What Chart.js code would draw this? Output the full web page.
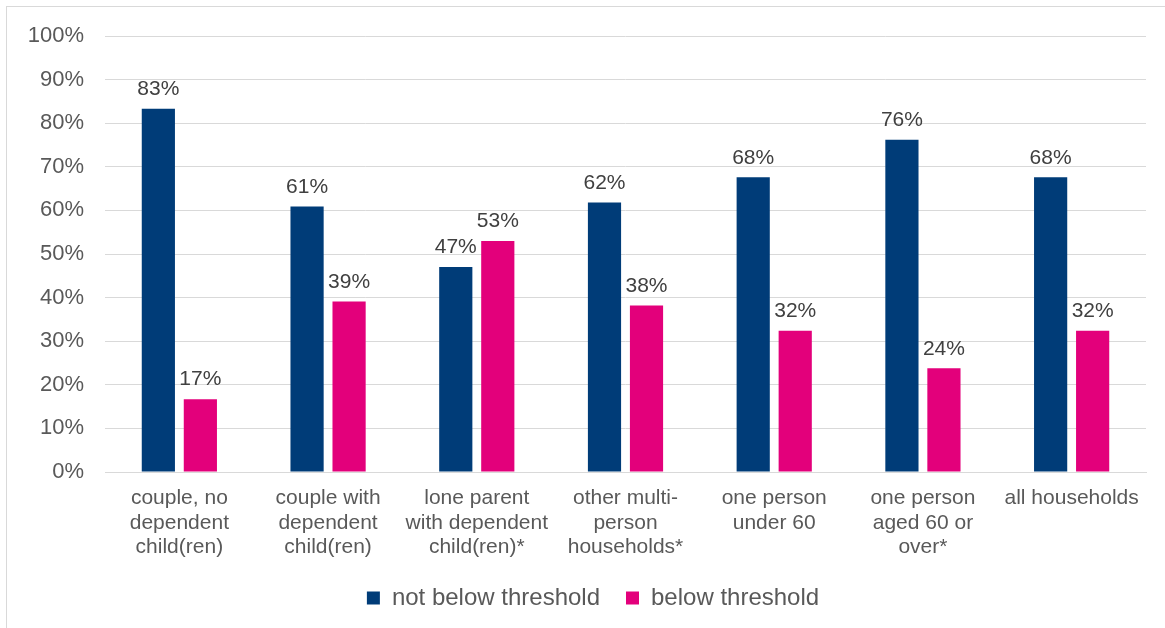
<!DOCTYPE html>
<html>
<head>
<meta charset="utf-8">
<script src="https://cdn.jsdelivr.net/npm/chart.js@4.4.1/dist/chart.umd.min.js"></script>
<style>
  html, body { margin: 0; padding: 0; background: #fff; }
  #frame {
    position: absolute; left: 6px; top: 6px; width: 1160px; height: 640px;
    border: 1px solid #d9d9d9; box-sizing: border-box;
  }
  #wrap { position: absolute; left: 0; top: 0; width: 1165px; height: 628px; }
</style>
</head>
<body>
<div id="frame"></div>
<div id="wrap"><canvas id="bar-chart-threshold"></canvas></div>
<script>
const categories = [
  ["couple, no", "dependent", "child(ren)"],
  ["couple with", "dependent", "child(ren)"],
  ["lone parent", "with dependent", "child(ren)*"],
  ["other multi-", "person", "households*"],
  ["one person", "under 60"],
  ["one person", "aged 60 or", "over*"],
  ["all households"]
];
const notBelow = [83.3, 60.9, 47.0, 61.8, 67.6, 76.2, 67.6];
const below = [16.7, 39.1, 53.0, 38.2, 32.4, 23.8, 32.4];
const yTicks = [0, 10, 20, 30, 40, 50, 60, 70, 80, 90, 100];

const FONT = "'Liberation Sans', Arial, sans-serif";

// draws the percentage above each bar
const barLabels = {
  id: 'barLabels',
  afterDatasetsDraw(chart) {
    const ctx = chart.ctx;
    ctx.save();
    ctx.font = "21px " + FONT;
    ctx.fillStyle = "#404040";
    ctx.textAlign = "center";
    ctx.textBaseline = "bottom";
    chart.data.datasets.forEach((ds, i) => {
      chart.getDatasetMeta(i).data.forEach((bar, j) => {
        ctx.fillText(Math.round(ds.data[j]) + "%", bar.x, bar.y - 9);
      });
    });
    ctx.restore();
  }
};

// legend sits a little right of the canvas centre in the original
const legendNudge = {
  id: 'legendNudge',
  afterLayout(chart) {
    chart.legend.left += 10;
    chart.legend.right += 10;
  }
};

Chart.register(barLabels, legendNudge);

const data = {
  labels: categories,
  datasets: [
    {
      label: "not below threshold",
      data: notBelow,
      backgroundColor: "#003c78",
      categoryPercentage: 0.565,
      barPercentage: 0.79
    },
    {
      label: "below threshold",
      data: below,
      backgroundColor: "#e3007b",
      categoryPercentage: 0.565,
      barPercentage: 0.79
    }
  ]
};

const config = {
  type: 'bar',
  data: data,
  options: {
    responsive: false,
    animation: false,
    layout: { padding: { top: 36, right: 19, bottom: 8, left: 20 } },
    plugins: {
      tooltip: { enabled: false },
      legend: {
        position: 'bottom',
        labels: {
          color: "#595959",
          font: { family: FONT, size: 24 },
          boxWidth: 13,
          boxHeight: 13,
          padding: 26
        }
      }
    },
    scales: {
      x: {
        grid: { display: false },
        border: { color: "#d9d9d9" },
        ticks: {
          color: "#595959",
          font: { family: FONT, size: 21, lineHeight: 1.17 },
          padding: 6,
          maxRotation: 0,
          autoSkip: false
        },
        afterFit(scale) { scale.height = 88; }
      },
      y: {
        min: 0,
        max: 100,
        afterBuildTicks(scale) { scale.ticks = yTicks.map(v => ({ value: v })); },
        grid: { color: "#d9d9d9", drawTicks: false },
        border: { display: false },
        ticks: {
          color: "#595959",
          font: { family: FONT, size: 22 },
          padding: 21,
          callback: v => v + "%"
        },
        afterFit(scale) { scale.width = 85; }
      }
    }
  }
};

const canvas = document.getElementById('bar-chart-threshold');
canvas.width = 1165;
canvas.height = 628;
let ctx = canvas.getContext("2d");
window.myBar = new Chart(ctx, config);
</script>
</body>
</html>
